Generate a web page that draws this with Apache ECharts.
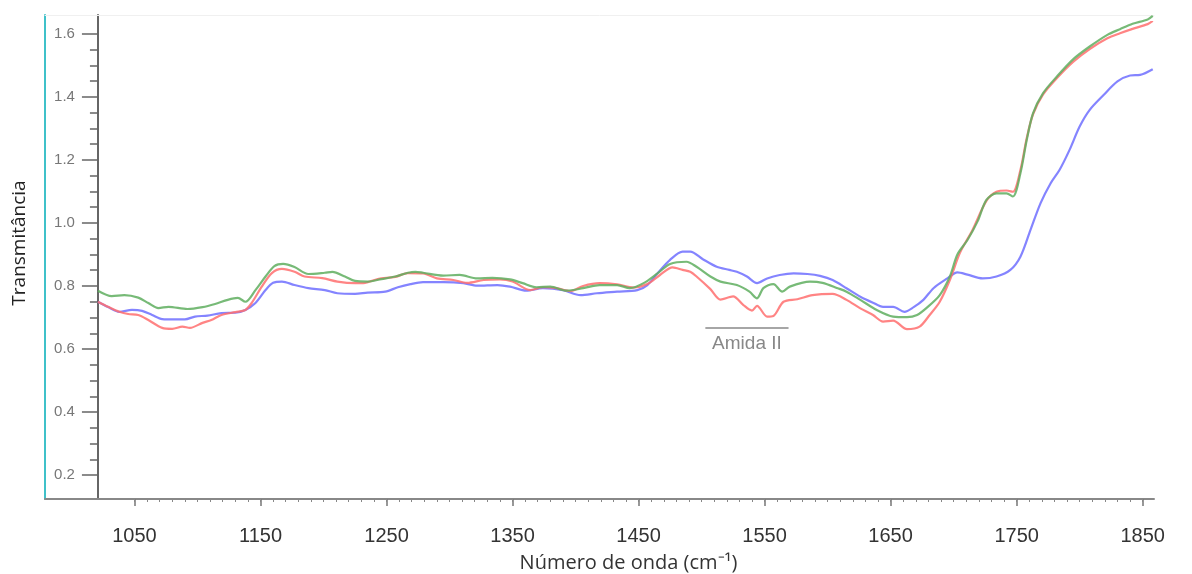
<!DOCTYPE html>
<html><head><meta charset="utf-8">
<script src="https://cdn.jsdelivr.net/npm/echarts@6/dist/echarts.min.js"></script>
<style>html,body{margin:0;padding:0;background:#fff}#c{width:1192px;height:574px}</style>
</head><body><div id="c"></div>
<script>
// ---- data (wavenumber cm-1 / transmittance) ----
const greenX = [1021,1032,1042,1053,1061,1069,1077,1092,1104,1114,1124,1132,1138,1146,1154,1161,1168,1177,1188,1201,1207,1217,1225,1235,1246,1257,1267,1273,1279,1295,1308,1322,1334,1348,1358,1369,1380,1393,1406,1419,1433,1443,1454,1465,1475,1488,1496,1507,1515,1528,1538,1544,1549,1557,1564,1570,1586,1596,1608,1615,1626,1639,1652,1663,1671,1679,1689,1697,1703,1711,1719,1726,1734,1742,1747,1753,1758,1763,1771,1782,1795,1808,1822,1832,1842,1854,1858];
const greenY = [0.785,0.768,0.771,0.763,0.746,0.730,0.734,0.727,0.733,0.743,0.756,0.762,0.750,0.787,0.830,0.863,0.870,0.860,0.838,0.842,0.845,0.830,0.816,0.814,0.822,0.830,0.842,0.845,0.842,0.833,0.835,0.824,0.826,0.821,0.809,0.796,0.798,0.785,0.793,0.803,0.803,0.793,0.809,0.840,0.870,0.877,0.861,0.830,0.814,0.803,0.782,0.761,0.793,0.806,0.782,0.798,0.814,0.810,0.793,0.782,0.756,0.724,0.703,0.701,0.708,0.732,0.771,0.830,0.900,0.946,1.005,1.073,1.094,1.094,1.084,1.158,1.263,1.348,1.412,1.465,1.520,1.560,1.597,1.615,1.632,1.646,1.657];

const redX = [1021,1029,1038,1045,1053,1061,1072,1080,1088,1094,1104,1111,1119,1130,1138,1143,1151,1159,1167,1177,1185,1199,1211,1225,1233,1243,1257,1267,1279,1290,1303,1314,1327,1340,1350,1364,1374,1385,1396,1406,1419,1433,1446,1457,1467,1477,1485,1491,1496,1507,1515,1525,1533,1540,1544,1552,1557,1565,1576,1588,1604,1615,1626,1636,1644,1652,1663,1673,1681,1689,1697,1705,1715,1726,1734,1742,1747,1753,1758,1763,1771,1782,1795,1808,1822,1832,1842,1854,1858];
const redY = [0.750,0.734,0.718,0.711,0.708,0.692,0.667,0.664,0.671,0.667,0.683,0.692,0.708,0.717,0.724,0.746,0.798,0.841,0.854,0.845,0.830,0.825,0.814,0.809,0.810,0.822,0.829,0.841,0.840,0.824,0.819,0.810,0.819,0.821,0.814,0.787,0.796,0.793,0.784,0.800,0.809,0.805,0.795,0.806,0.835,0.859,0.851,0.845,0.830,0.790,0.757,0.767,0.740,0.722,0.737,0.703,0.705,0.750,0.758,0.771,0.775,0.756,0.729,0.708,0.687,0.690,0.663,0.671,0.708,0.750,0.819,0.905,0.978,1.070,1.099,1.103,1.099,1.168,1.269,1.345,1.408,1.460,1.512,1.552,1.586,1.602,1.616,1.631,1.641];

const blueX = [1021,1029,1038,1048,1056,1064,1072,1082,1090,1098,1108,1119,1130,1138,1146,1154,1160,1167,1177,1188,1201,1211,1225,1235,1249,1259,1269,1279,1295,1311,1322,1338,1348,1361,1374,1390,1404,1417,1433,1449,1457,1465,1475,1485,1491,1501,1512,1522,1528,1536,1544,1552,1562,1573,1584,1594,1604,1615,1626,1636,1644,1652,1661,1668,1676,1684,1695,1703,1711,1723,1734,1745,1753,1761,1769,1777,1784,1792,1800,1808,1819,1830,1840,1848,1858];
const blueY = [0.750,0.733,0.718,0.724,0.721,0.708,0.695,0.694,0.694,0.703,0.706,0.714,0.715,0.724,0.746,0.787,0.810,0.814,0.803,0.793,0.787,0.777,0.775,0.779,0.782,0.796,0.806,0.812,0.812,0.809,0.801,0.803,0.798,0.785,0.793,0.787,0.771,0.777,0.782,0.787,0.803,0.840,0.883,0.909,0.909,0.885,0.861,0.851,0.845,0.830,0.809,0.824,0.835,0.840,0.838,0.832,0.819,0.793,0.766,0.747,0.734,0.734,0.718,0.732,0.756,0.793,0.824,0.843,0.836,0.824,0.830,0.851,0.893,0.978,1.063,1.126,1.168,1.232,1.306,1.359,1.406,1.449,1.468,1.470,1.488];

// ---- axes / ticks ----
const xMin = 979, xMax = 1859;
const yMin = 0.124, yMax = 1.66;
const xMajorTicks = [1050,1150,1250,1350,1450,1550,1650,1750,1850];
const xMinorTicks = []; for (let v = 1050; v <= 1850; v += 10) xMinorTicks.push(v);
const yMajorTicks = [0.2,0.4,0.6,0.8,1.0,1.2,1.4,1.6];
const yMinorTicks = []; for (let i = 5; i <= 31; i++) yMinorTicks.push(+(i*0.05).toFixed(2));
const xAxisOriginValue = 1021; // where the y axis crosses

// ---- annotation ----
const amidaLabel = 'Amida II';
const amidaStart = 1503, amidaEnd = 1569, amidaLevel = 0.666;

const zip = (xs, ys) => xs.map((x, i) => [x, ys[i]]);

const chart = echarts.init(document.getElementById('c'), null, {renderer: 'canvas'});
const gridLeft = 45, gridRight = 38, gridTop = 15, gridBottom = 75;
const plotW = 1192 - gridLeft - gridRight;
const yAxisOffset = -((xAxisOriginValue - xMin) / (xMax - xMin)) * plotW;

const lineBase = (color) => ({
  type: 'line', showSymbol: false, symbol: 'none', smooth: 0.3,
  lineStyle: {color: color, width: 2.2, opacity: 0.85},
  itemStyle: {color: color}, silent: true, animation: false, z: 3
});

chart.setOption({
  animation: false,
  backgroundColor: '#ffffff',
  grid: {left: gridLeft, right: gridRight, top: gridTop, bottom: gridBottom, containLabel: false, outerBoundsMode: 'none'},
  xAxis: [
    {type: 'value', min: xMin, max: xMax, position: 'bottom',
     name: 'Número de onda (cm⁻¹)', nameLocation: 'middle', nameGap: 54,
     nameTextStyle: {fontFamily: 'Open Sans', fontSize: 20, color: '#333', padding: [0, 0, 0, 58]},
     axisLine: {show: true, lineStyle: {color: '#888', width: 2}},
     axisTick: {show: true, length: 7, customValues: xMajorTicks, lineStyle: {color: '#777', width: 1.5}},
     axisLabel: {show: true, customValues: xMajorTicks, margin: 27, fontFamily: 'Liberation Sans', fontSize: 20, color: '#333',
                 formatter: v => String(v)},
     splitLine: {show: false}},
    {type: 'value', min: xMin, max: xMax, position: 'bottom',
     axisLine: {show: false},
     axisTick: {show: true, length: 3, customValues: xMinorTicks, lineStyle: {color: '#888', width: 1}},
     axisLabel: {show: false}, splitLine: {show: false}},
    {type: 'value', min: xMin, max: xMax, position: 'top',
     axisLine: {show: true, lineStyle: {color: '#f0f0f0', width: 1}},
     axisTick: {show: false}, axisLabel: {show: false}, splitLine: {show: false}}
  ],
  yAxis: [
    {type: 'value', min: yMin, max: yMax, position: 'left', offset: yAxisOffset,
     axisLine: {show: true, lineStyle: {color: '#666', width: 2}},
     axisTick: {show: true, length: 16, customValues: yMajorTicks, lineStyle: {color: '#666', width: 1.5}},
     axisLabel: {show: true, customValues: yMajorTicks, margin: 23, fontFamily: 'Liberation Sans', fontSize: 15, color: '#777',
                 formatter: v => v.toFixed(1)},
     splitLine: {show: false}},
    {type: 'value', min: yMin, max: yMax, position: 'left', offset: yAxisOffset,
     axisLine: {show: false},
     axisTick: {show: true, length: 8, customValues: yMinorTicks, lineStyle: {color: '#666', width: 1.5}},
     axisLabel: {show: false}, splitLine: {show: false}},
    {type: 'value', min: yMin, max: yMax, position: 'left', offset: 0,
     name: 'Transmitância', nameLocation: 'middle', nameGap: 16, nameRotate: 90,
     nameTextStyle: {fontFamily: 'Open Sans', fontSize: 19, color: '#222', padding: [0, 0, 0, 28]},
     axisLine: {show: true, lineStyle: {color: '#3fc1c9', width: 2}},
     axisTick: {show: false}, axisLabel: {show: false}, splitLine: {show: false}}
  ],
  series: [
    Object.assign(lineBase('#6f6fff'), {name: 'blue', data: zip(blueX, blueY)}),
    Object.assign(lineBase('#ff6f6f'), {name: 'red', data: zip(redX, redY)}),
    Object.assign(lineBase('#5fae5f'), {name: 'green', data: zip(greenX, greenY),
      markLine: {
        silent: true, symbol: ['none', 'none'], animation: false,
        lineStyle: {color: '#888', width: 1.5, type: 'solid'},
        label: {show: true, position: 'insideMiddleBottom', formatter: amidaLabel, distance: 6,
                fontFamily: 'Liberation Sans', fontSize: 19, color: '#888'},
        emphasis: {disabled: true},
        data: [[{coord: [amidaStart, amidaLevel]}, {coord: [amidaEnd, amidaLevel]}]]
      }})
  ]
});
</script></body></html>
